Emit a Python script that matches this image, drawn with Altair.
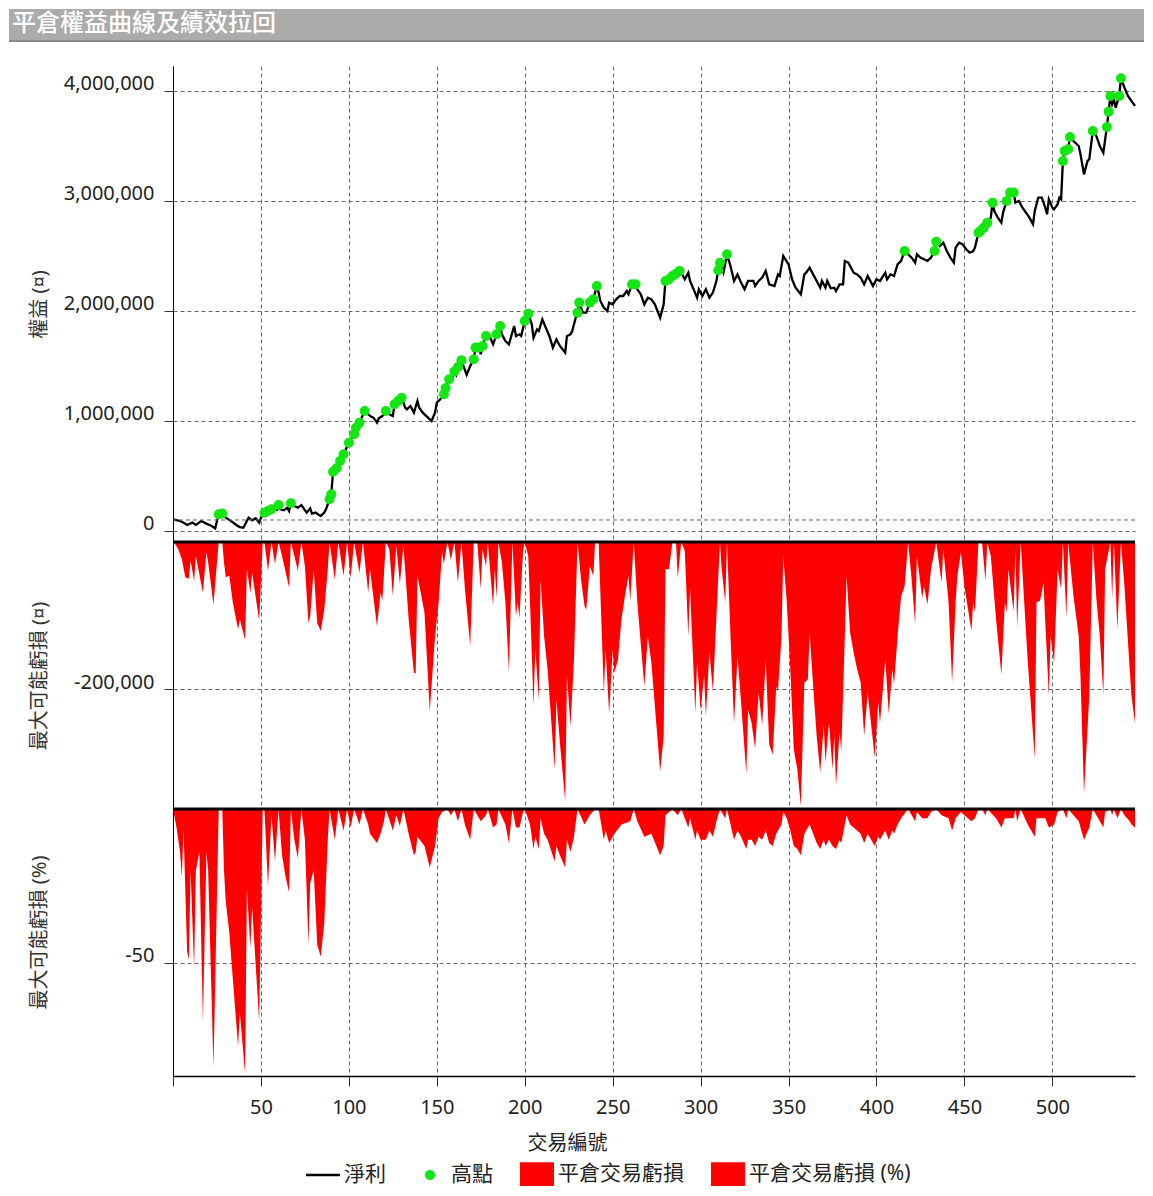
import altair as alt
import pandas as pd

# ---------------- text ----------------
chart_title = "平倉權益曲線及績效拉回"
x_title = "交易編號"
equity_title = "權益 (¤)"
loss_title = "最大可能虧損 (¤)"
pct_title = "最大可能虧損 (%)"
legend_labels = ["淨利", "高點", "平倉交易虧損", "平倉交易虧損 (%)"]

# ---------------- ticks ----------------
x_ticks = [0, 50, 100, 150, 200, 250, 300, 350, 400, 450, 500]
equity_ticks = [0, 1000000, 2000000, 3000000, 4000000]
loss_ticks = [-200000]
pct_ticks = [-50]
initial_capital = 100000

# ---------------- equity curve (thousands) ----------------
equity_trade = [0, 4, 6, 8, 11, 13, 16, 19, 22, 24, 25, 26, 28, 30, 33, 36, 38, 40, 42, 43, 45, 47, 49, 50,
                52, 54, 56, 59, 60, 61, 63, 65, 66, 67, 69, 71, 73, 74, 76, 78, 79, 81, 83, 84, 86, 87, 89,
                90, 91, 93, 95, 97, 100, 103, 104, 106, 109, 111, 113, 114, 116, 117, 119, 121, 123, 125,
                126, 128, 130, 132, 133, 135, 137, 139, 140, 142, 145, 147, 149, 150, 152, 154, 155, 157,
                158, 160, 161, 162, 164, 167, 169, 171, 172, 174, 175, 176, 178, 180, 182, 184, 186, 187,
                189, 191, 194, 195, 197, 198, 200, 202, 204, 205, 207, 208, 210, 212, 214, 216, 218, 220,
                223, 224, 226, 227, 229, 230, 231, 233, 235, 237, 239, 241, 242, 243, 245, 247, 248, 250,
                252, 254, 256, 258, 259, 261, 263, 264, 266, 268, 270, 272, 274, 277, 279, 280, 282, 284,
                286, 288, 289, 291, 293, 294, 296, 298, 299, 301, 303, 305, 307, 309, 310, 311, 313, 315,
                317, 319, 321, 323, 325, 327, 330, 331, 333, 335, 337, 339, 342, 344, 345, 347, 350, 352,
                354, 357, 359, 360, 362, 364, 366, 368, 369, 371, 372, 374, 376, 377, 379, 381, 382, 384,
                386, 387, 389, 391, 393, 395, 397, 398, 400, 402, 405, 406, 408, 410, 412, 414, 416, 418,
                420, 422, 423, 425, 427, 429, 431, 433, 434, 436, 438, 440, 442, 444, 445, 447, 449, 451,
                453, 455, 456, 458, 459, 461, 462, 463, 465, 466, 467, 469, 471, 472, 474, 476, 478, 479,
                481, 483, 485, 487, 489, 490, 492, 494, 496, 497, 498, 500, 501, 503, 504, 505, 506, 507,
                509, 510, 512, 515, 516, 518, 520, 521, 523, 525, 527, 529, 531, 532, 533, 534, 535, 536,
                538, 539, 541, 543, 545, 547]
equity_k = [106, 91, 76, 55, 76, 55, 91, 67, 45, 24, 91, 152, 158, 121, 91, 55, 36, 30, 91, 121, 97, 115, 76, 121,
            167, 182, 197, 190, 236, 197, 188, 212, 182, 252, 227, 212, 236, 212, 167, 206, 158, 167, 145, 136, 167, 197, 288,
            333, 539, 570, 636, 697, 803, 879, 939, 985, 1091, 1061, 1036, 1030, 985, 1024, 1045, 1091, 1061, 1045,
            1152, 1182, 1212, 1121, 1106, 1136, 1076, 1182, 1121, 1076, 1030, 1000, 1076, 1167, 1197, 1242, 1300, 1380,
            1360, 1450, 1420, 1490, 1552, 1420, 1500, 1561, 1667, 1667, 1606, 1682, 1773, 1773, 1697, 1788, 1864, 1788,
            1727, 1697, 1864, 1773, 1788, 1773, 1909, 1976, 1879, 1758, 1833, 1818, 1924, 1848, 1773, 1667, 1742, 1682,
            1621, 1773, 1788, 1818, 1939, 1985, 2076, 1985, 1985, 2076, 2106, 2227, 2167, 2091, 2030, 2000, 2076, 2061,
            2106, 2136, 2136, 2182, 2152, 2242, 2242, 2197, 2152, 2061, 2121, 2106, 2061, 1939, 2061, 2273, 2288, 2318,
            2339, 2364, 2348, 2288, 2348, 2273, 2197, 2121, 2197, 2136, 2197, 2121, 2167, 2273, 2370, 2439, 2348, 2515,
            2409, 2273, 2333, 2258, 2197, 2273, 2273, 2227, 2273, 2303, 2364, 2242, 2227, 2333, 2318, 2500, 2424, 2288,
            2212, 2152, 2333, 2348, 2394, 2333, 2273, 2212, 2273, 2212, 2273, 2206, 2212, 2182, 2242, 2242, 2455, 2439,
            2379, 2348, 2333, 2303, 2242, 2318, 2258, 2227, 2288, 2273, 2348, 2288, 2333, 2318, 2424, 2455, 2545, 2515,
            2485, 2439, 2515, 2485, 2470, 2455, 2485, 2545, 2630, 2591, 2621, 2545, 2485, 2439, 2576, 2621, 2606, 2561,
            2530, 2545, 2576, 2712, 2727, 2758, 2788, 2803, 2848, 2985, 2909, 2848, 2803, 2894, 3000, 3076, 3076, 2985,
            3000, 2939, 2894, 2848, 2788, 2909, 3030, 3030, 2939, 2879, 3015, 2939, 2924, 2970, 3030, 3015, 3364, 3455,
            3470, 3582, 3545, 3500, 3424, 3242, 3364, 3379, 3636, 3591, 3500, 3439, 3673, 3812, 3955, 3879, 3924, 3848,
            3955, 4115, 4030, 3955, 3909, 3864]

# ---------------- new highs (thousands) ----------------
high_trade = [26, 28, 52, 54, 56, 60, 67, 89, 90, 91, 93, 95, 97, 100, 103, 104, 106, 109, 121, 126, 128, 130,
              154, 155, 157, 160, 162, 164, 171, 172, 174, 176, 178, 184, 186, 200, 202, 230, 231, 237, 239, 241,
              261, 263, 280, 282, 284, 286, 288, 310, 311, 315, 416, 433, 434, 458, 459, 461, 463, 466, 474, 476,
              478, 506, 507, 509, 510, 523, 531, 532, 533, 538, 539]
high_k = [152, 158, 167, 182, 197, 236, 252, 288, 333, 539, 570, 636, 697, 803, 879, 939, 985, 1091, 1091, 1152, 1182, 1212,
          1242, 1300, 1380, 1450, 1490, 1552, 1561, 1667, 1667, 1682, 1773, 1788, 1864, 1909, 1976, 1985, 2076, 2076, 2106, 2227,
          2242, 2242, 2273, 2288, 2318, 2339, 2364, 2370, 2439, 2515, 2545, 2545, 2630, 2712, 2727, 2758, 2803, 2985, 3000, 3076,
          3076, 3364, 3455, 3470, 3582, 3636, 3673, 3812, 3955, 3955, 4115]

# ---------------- max possible loss per trade (thousands) ----------------
loss_trade = [0, 1, 3, 5, 7, 9, 10, 12, 13, 17, 19, 20, 23, 26, 28, 29, 30, 32, 34, 37, 38, 41, 42, 44, 45, 49,
              51, 52, 54, 56, 58, 60, 62, 66, 67, 69, 71, 73, 75, 77, 78, 80, 82, 84, 86, 88, 89, 92, 94, 97,
              99, 101, 103, 106, 108, 111, 112, 116, 118, 119, 120, 121, 123, 125, 127, 129, 131, 134, 137, 138,
              139, 143, 146, 149, 151, 153, 154, 156, 158, 160, 162, 164, 166, 169, 171, 173, 175, 176, 178, 179,
              182, 183, 184, 185, 187, 189, 191, 193, 195, 196, 197, 199, 200, 202, 203, 205, 206, 208, 209, 211,
              213, 217, 218, 220, 223, 224, 226, 228, 230, 232, 234, 235, 237, 239, 240, 242, 245, 246, 248, 250,
              251, 253, 255, 257, 259, 260, 262, 264, 268, 270, 272, 277, 279, 280, 282, 284, 286, 287, 289, 291,
              293, 294, 297, 298, 300, 302, 303, 305, 307, 309, 311, 312, 314, 315, 317, 319, 321, 323, 326, 327,
              329, 331, 333, 335, 337, 339, 341, 343, 344, 346, 347, 349, 351, 353, 355, 357, 359, 361, 362, 364,
              366, 368, 370, 371, 373, 375, 376, 377, 379, 380, 382, 383, 385, 387, 389, 391, 393, 395, 399, 401,
              402, 405, 407, 409, 410, 412, 414, 416, 418, 420, 422, 423, 426, 427, 429, 431, 434, 437, 438, 441,
              443, 445, 446, 448, 450, 454, 455, 456, 458, 460, 462, 463, 465, 468, 471, 473, 474, 475, 478, 479,
              480, 482, 484, 486, 490, 491, 493, 495, 496, 498, 499, 501, 503, 505, 506, 508, 509, 512, 515, 516,
              518, 521, 523, 525, 527, 529, 530, 533, 534, 535, 537, 539, 541, 544, 545, 547]
loss_k = [0, -2, -10, -23, -48, -50, -25, -53, -19, -69, -14, -28, -85, 0, 0, -28, -48, -46, -82, -119, -105, -133, -37, -69, -42, -107,
          0, 0, -39, 0, -30, 0, -19, -62, 0, -19, -39, 0, -33, -110, -101, -37, -110, -121, -92, -37, 0, -51, 0, -46,
          0, -49, 0, -42, 0, -69, -37, -115, -69, -80, -42, 0, -10, -73, -5, -57, -5, -105, -178, -178,
          -46, -96, -230, -128, -83, -14, -30, 0, -24, 0, -55, 0, -64, -141, 0, 0, -64, -10, -33, 0,
          -87, -37, -76, 0, -28, -82, -176, 0, -101, -82, -103, -14, 0, -19, -82, -223, -146, -214, -51, -128,
          -173, -309, -214, -273, -352, -182, -250, -160, 0, -51, -87, -92, -33, -46, 0, 0, -205, -146, -234, -146,
          -178, -160, -105, -73, -46, -80, 0, -82, -196, -128, -164, -312, -264, -37, -37, 0, 0, -49, 0, -12,
          -128, -64, -232, -164, -228, -182, -237, -150, -203, -101, 0, -37, -82, 0, -128, -246, -155, -218, -315, -228,
          -246, -281, -205, -249, -160, -275, -289, -196, -203, -128, -19, -82, -173, -282, -309, -359, -191, -187, -123, -196,
          -264, -313, -250, -300, -246, -309, -264, -331, -259, -284, -128, -46, -123, -150, -173, -191, -263, -205, -293, -218,
          -246, -160, -234, -173, -193, -128, -74, -60, 0, -51, -112, -19, -76, -60, -85, -37, 0, -55, -10, -82,
          -191, -82, -46, -14, -60, -121, -82, -96, 0, 0, -53, 0, -19, -105, -180, -82, -96, -37, -94, -10,
          -116, 0, -82, -162, -294, -82, -80, -55, -110, -209, -128, -164, -37, -64, 0, -103, 0, -73, -128, -182,
          -342, -209, 0, -76, -128, -209, -37, 0, -78, 0, -119, 0, -60, -173, -209, -246]

# ---------------- max possible loss per trade (%) ----------------
pct_trade = [0, 2, 4, 5, 6, 8, 9, 10, 12, 13, 15, 17, 19, 20, 23, 26, 28, 29, 30, 32, 34, 37, 38, 41, 42, 44, 45, 49,
             51, 52, 54, 56, 58, 60, 62, 64, 66, 67, 69, 71, 73, 75, 77, 78, 80, 82, 84, 86, 88, 89, 92, 94, 97,
             99, 101, 103, 106, 108, 111, 112, 116, 118, 120, 121, 125, 127, 129, 131, 134, 137, 138, 139, 143, 146,
             149, 151, 153, 156, 158, 160, 162, 164, 166, 169, 171, 175, 178, 179, 182, 184, 185, 189, 191, 193, 195,
             197, 199, 200, 203, 205, 206, 208, 209, 211, 213, 217, 218, 220, 223, 224, 226, 228, 230, 234, 237, 240,
             242, 245, 246, 248, 251, 255, 260, 262, 264, 268, 272, 277, 279, 280, 284, 287, 289, 293, 294, 297, 298,
             300, 303, 305, 307, 309, 311, 314, 315, 319, 321, 323, 326, 327, 329, 331, 333, 335, 337, 339, 341, 343,
             346, 347, 349, 351, 353, 355, 357, 359, 362, 364, 366, 368, 370, 371, 373, 375, 377, 379, 380, 382, 383,
             385, 387, 389, 391, 393, 395, 399, 401, 402, 405, 407, 409, 410, 412, 414, 418, 422, 423, 426, 429, 431,
             434, 437, 441, 443, 445, 448, 450, 454, 456, 458, 460, 462, 463, 468, 471, 473, 474, 478, 479, 480, 482,
             486, 490, 491, 496, 498, 501, 503, 506, 508, 509, 512, 515, 518, 521, 523, 527, 529, 530, 533, 534, 535,
             537, 539, 541, 544, 545, 547]
pct_value = [0, -6, -14, -22, -7, -46, -49, -20, -52, -20, -14, -69, -14, -20, -84, 0, 0, -20, -30, -40, -55, -77, -66, -86, -26, -45, -32, -69,
             0, 0, -25, -2, -17, 0, -15, -22, -27, 0, -10, -16, 0, -10, -44, -24, -20, -44, -48, -37, -10, 0, -10, 0, -7,
             0, -6, 0, -5, 0, -5, -8, -11, -8, -4, 0, -7, -2, -5.5, 0, -8, -15, -14, -9, -12, -19,
             -12, -3, -1, 0, -2, 0, -4, 0, -5, -10, 0, -4, -2, 0, -6, -5, 0, -5, -11, 0, -6,
             -6, -1, 0, -5, -13, -9, -13, -3, -8, -10, -17, -12, -15, -19, -10, -14, -9, 0, -5, -2, 0,
             0, -10, -7, -11, -8, -5, -4, 0, -4, -9, -8, -15, -12, -2, 0, -2, 0, -6, -3, -10, -7,
             -10, -10, -7, -9, -4, 0, -3, 0, -10, -7, -9, -13, -10, -10, -12, -9, -10, -7, -11, -12, -8,
             -5, -1, -3, -7, -12, -13, -15, -8, -5, -8, -11, -13, -10, -12, -10, -12, -13, -10, -11, -5, -2,
             -5, -6, -7, -8, -11, -8, -12, -9, -10, -7, -10, -7, -8, -5, -3, 0, -4, -1, -3, -3, -1,
             0, -2, -3, -7, -3, -1, -2, -4, -3, 0, 0, -2, 0, -3, -6, -3, -3, -3, 0, -4, 0,
             -5, -9, -3, -3, -6, -5, -1, 0, -3, 0, -2, -4, -10, -6, 0, -4, -6, -1, 0, -2, 0,
             -3, 0, -2, -4, -5, -6]

# ---------------- styling ----------------
W = 962
H_HEAD = 57
H_TOP = 476
H_MID = 267
H_BOT = 267
X_MAX = 547
FONT = "Noto Sans, Noto Sans CJK TC"
RED = "#ff0000"
GREEN = "#14e614"
GRID = "#666666"

x_scale = alt.Scale(domain=[0, X_MAX], nice=False, zero=False)


def y_axis(title, values, title_y=None):
    kw = dict(
        title=title, values=values, format=",d",
        labelExpr="replace(datum.label, '\u2212', '-')",
        grid=True, gridColor=GRID, gridDash=[4, 3], gridWidth=1,
        domainColor="#000000", domainWidth=1,
        tickColor="#333333", tickSize=9, labelPadding=10, labelOffset=-7,
        labelFontSize=20, labelColor="#222222", labelFont=FONT,
        titleFontSize=20, titleFontWeight="normal", titleColor="#333333", titleFont=FONT,
        titlePadding=11, minExtent=113, maxExtent=113,
    )
    if title_y is not None:
        kw["titleY"] = title_y
    return alt.Axis(**kw)


x_grid_axis = alt.Axis(values=x_ticks, grid=True, gridColor=GRID, gridDash=[4, 3], gridWidth=1,
                       labels=False, ticks=False, domain=False, title="")

x_bottom_axis = alt.Axis(
    values=x_ticks, title=x_title,
    labelExpr="datum.value == 0 ? '' : datum.label",
    grid=True, gridColor=GRID, gridDash=[4, 3], gridWidth=1,
    domainColor="#000000", domainWidth=1.5, tickColor="#333333", tickSize=10,
    labelPadding=11, labelFontSize=20, labelColor="#222222", labelFont=FONT, labelFlush=False,
    titleFontSize=20, titleFontWeight="normal", titleColor="#222222", titleFont=FONT,
    titlePadding=16, titleX=394, titleAlign="center",
)

# ---------------- header bar ----------------
head_df = pd.DataFrame({"title": [chart_title]})
head_bar = alt.Chart(head_df).mark_rect(color="#ababab").encode(
    x=alt.value(-164), x2=alt.value(W + 9), y=alt.value(0), y2=alt.value(31))
head_line = alt.Chart(head_df).mark_rect(color="#8a8a8a").encode(
    x=alt.value(-164), x2=alt.value(W + 9), y=alt.value(31), y2=alt.value(33))
head_text = alt.Chart(head_df).mark_text(
    align="left", baseline="middle", fontSize=24, color="#ffffff", font="Noto Sans CJK TC", fontWeight=500
).encode(x=alt.value(-161), y=alt.value(15), text="title:N")
header = alt.layer(head_bar, head_line, head_text).properties(width=W, height=H_HEAD)

# ---------------- equity panel ----------------
eq_df = pd.DataFrame({"trade": equity_trade, "equity": [v * 1000 for v in equity_k]})
hi_df = pd.DataFrame({"trade": high_trade, "equity": [v * 1000 for v in high_k]})
base_df = pd.DataFrame({"equity": [initial_capital]})
y_top = alt.Scale(domain=[-100000, 4227000], nice=False, zero=False)

eq_line = alt.Chart(eq_df).mark_line(color="#000000", strokeWidth=2.3).encode(
    x=alt.X("trade:Q", scale=x_scale, axis=x_grid_axis),
    y=alt.Y("equity:Q", scale=y_top, axis=y_axis(equity_title, equity_ticks)),
)
base_rule = alt.Chart(base_df).mark_rule(color=GRID, strokeDash=[4, 3], strokeWidth=1).encode(y="equity:Q")
eq_pts = alt.Chart(hi_df).mark_circle(size=100, color=GREEN, opacity=1).encode(x="trade:Q", y="equity:Q")
top = alt.layer(eq_line, base_rule, eq_pts).properties(width=W, height=H_TOP)

# ---------------- loss (currency) panel ----------------
loss_df = pd.DataFrame({"trade": loss_trade, "loss": [v * 1000 for v in loss_k]})
zero_loss = pd.DataFrame({"loss": [0]})
loss_area = alt.Chart(loss_df).mark_area(color=RED, interpolate="linear", opacity=1).encode(
    x=alt.X("trade:Q", scale=x_scale, axis=x_grid_axis),
    y=alt.Y("loss:Q", scale=alt.Scale(domain=[-363000, 0], nice=False), axis=y_axis(loss_title, loss_ticks)),
)
loss_zero = alt.Chart(zero_loss).mark_rule(color="#000000", strokeWidth=3).encode(y="loss:Q")
mid = alt.layer(loss_area, loss_zero).properties(width=W, height=H_MID)

# ---------------- loss (%) panel ----------------
pct_df = pd.DataFrame({"trade": pct_trade, "pct": pct_value})
zero_pct = pd.DataFrame({"pct": [0]})
pct_area = alt.Chart(pct_df).mark_area(color=RED, interpolate="linear", opacity=1).encode(
    x=alt.X("trade:Q", scale=x_scale, axis=x_bottom_axis),
    y=alt.Y("pct:Q", scale=alt.Scale(domain=[-86.7, 0], nice=False),
            axis=y_axis(pct_title, pct_ticks, title_y=123)),
)
pct_zero = alt.Chart(zero_pct).mark_rule(color="#000000", strokeWidth=3).encode(y="pct:Q")

legend_paths = [
    "M-1,-0.08L1,-0.08L1,0.08L-1,0.08Z",
    "M-0.3,0A0.3,0.3 0 1,0 0.3,0A0.3,0.3 0 1,0 -0.3,0Z",
    "M-1,-0.7L1,-0.7L1,0.7L-1,0.7Z",
    "M-1,-0.7L1,-0.7L1,0.7L-1,0.7Z",
]
legend_colors = ["#000000", GREEN, RED, RED]
leg = alt.Legend(
    title=None, orient="none", legendX=133, legendY=1148, direction="horizontal",
    symbolSize=1156, symbolStrokeWidth=0, symbolOpacity=1,
    labelFontSize=21, labelColor="#222222", labelFont=FONT,
    labelOffset=4, columnPadding=27, labelLimit=400, padding=0,
)
legend_df = pd.DataFrame({"series": legend_labels})
legend_layer = alt.Chart(legend_df).transform_filter("false").mark_point(filled=True, opacity=1).encode(
    fill=alt.Fill("series:N", scale=alt.Scale(domain=legend_labels, range=legend_colors), legend=leg),
    shape=alt.Shape("series:N", scale=alt.Scale(domain=legend_labels, range=legend_paths), legend=leg),
)
bot = alt.layer(pct_area, pct_zero, legend_layer).properties(width=W, height=H_BOT)

chart = alt.vconcat(header, top, mid, bot, spacing=0, bounds="flush").properties(
    padding=0
).configure(font=FONT).configure_view(stroke="transparent")

chart.save("out.html", embed_options={"renderer": "svg", "actions": False})
